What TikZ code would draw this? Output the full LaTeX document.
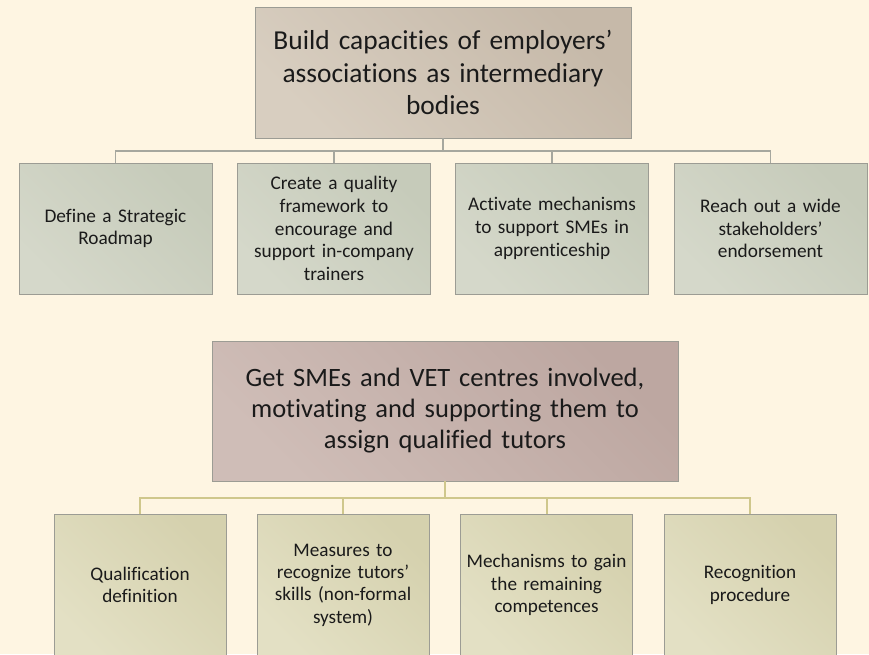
\documentclass[tikz,border=0pt]{standalone}
\usepackage{fontspec}
\setmainfont{Carlito}[Ligatures=NoCommon]
\definecolor{bg}{HTML}{FEF5E2}
\definecolor{ink}{HTML}{1A1A1A}
\definecolor{edge}{HTML}{9C9C94}
\definecolor{tanA}{HTML}{D8CEC0}
\definecolor{tanB}{HTML}{C6B9A9}
\definecolor{grA}{HTML}{D5D8CA}
\definecolor{grB}{HTML}{C6CBBA}
\definecolor{mvA}{HTML}{CFBDB7}
\definecolor{mvB}{HTML}{BDA7A1}
\definecolor{khA}{HTML}{E3E0C4}
\definecolor{khB}{HTML}{D5D1AE}
\definecolor{lineG}{HTML}{A6A79E}
\definecolor{lineK}{HTML}{CFC78C}
\tikzset{
  boxbase/.style={draw=edge, line width=0.6pt, align=center, text=ink, inner sep=2pt},
  headA/.style={boxbase, left color=tanA, right color=tanB, shading angle=135, minimum width=376pt, minimum height=131pt, text width=370pt, font=\fontsize{27.4}{32.5}\selectfont},
  childA/.style={boxbase, left color=grA, right color=grB, shading angle=135, minimum width=193pt, minimum height=131pt, text width=188pt, font=\fontsize{19.3}{22.8}\selectfont},
  headB/.style={boxbase, left color=mvA, right color=mvB, shading angle=135, minimum width=466pt, minimum height=140pt, text width=460pt, font=\fontsize{26.5}{31}\selectfont},
  childB/.style={boxbase, left color=khA, right color=khB, shading angle=135, minimum width=172pt, minimum height=142pt, text width=168pt, font=\fontsize{19.2}{22.3}\selectfont},
  connA/.style={draw=lineG, line width=1.5pt},
  connB/.style={draw=lineK, line width=2pt}
}
\begin{document}
\begin{tikzpicture}[x=1pt,y=-1pt]
\useasboundingbox (0,0) rectangle (869,654);
\fill[bg] (0,0) rectangle (869,654);
% upper tree
\node[headA] (h1) at (443,72.5) {Build capacities of employers’\\associations as intermediary\\bodies};
\node[childA] (a1) at (115.5,228.5) {Define a Strategic\\Roadmap};
\node[childA] (a2) at (334,228.5) {Create a quality\\framework to\\encourage and\\support in-company\\trainers};
\node[childA] (a3) at (552,228.5) {Activate mechanisms\\to support SMEs in\\apprenticeship};
\node[childA] (a4) at (770.5,228.5) {Reach out a wide\\stakeholders’\\endorsement};
\coordinate (bus1) at (443,151);
\draw[connA] (h1.south) -- (bus1);
\draw[connA] (bus1) -| (a1.north);
\draw[connA] (bus1) -| (a2.north);
\draw[connA] (bus1) -| (a3.north);
\draw[connA] (bus1) -| (a4.north);
% lower tree
\node[headB] (h2) at (445,411) {Get SMEs and VET centres involved,\\motivating and supporting them to\\assign qualified tutors};
\node[childB] (b1) at (140,585) {Qualification\\definition};
\node[childB] (b2) at (343,585) {Measures to\\recognize tutors’\\skills (non-formal\\system)};
\node[childB] (b3) at (546.5,585) {Mechanisms to gain\\the remaining\\competences};
\node[childB] (b4) at (750,585) {Recognition\\procedure};
\coordinate (bus2) at (445,498);
\draw[connB] (h2.south) -- (bus2);
\draw[connB] (bus2) -| (b1.north);
\draw[connB] (bus2) -| (b2.north);
\draw[connB] (bus2) -| (b3.north);
\draw[connB] (bus2) -| (b4.north);
\end{tikzpicture}
\end{document}
